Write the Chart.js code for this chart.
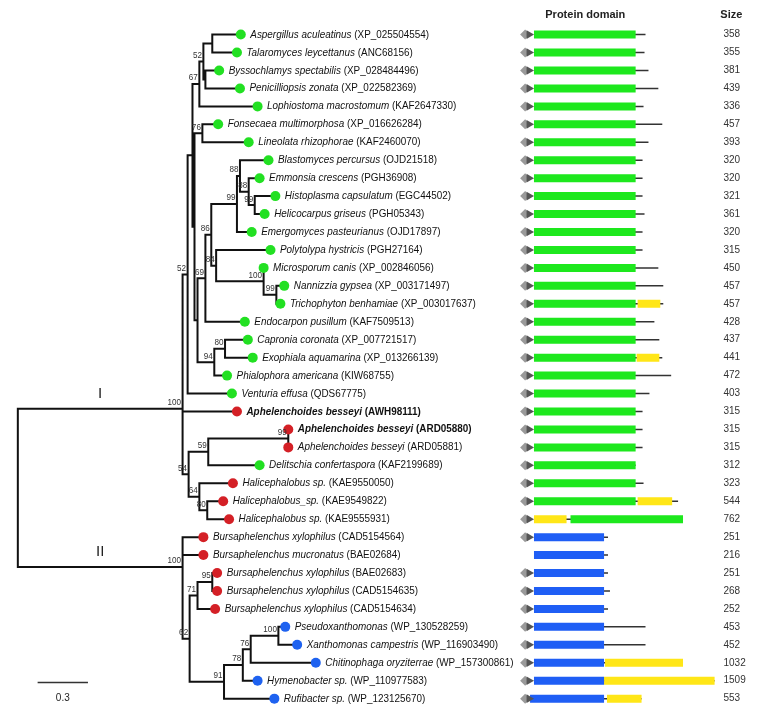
<!DOCTYPE html>
<html>
<head>
<meta charset="utf-8">
<script src="https://cdn.jsdelivr.net/npm/chart.js@4.4.1/dist/chart.umd.min.js"></script>
<style>
  html, body { margin: 0; padding: 0; background: #fff; }
  #wrap { width: 764px; height: 722px; position: relative; }
</style>
</head>
<body>
<div id="wrap"><canvas id="treeChart"></canvas></div>
<script>
// ---- leaves, top to bottom ----
const taxa = ['Aspergillus aculeatinus', 'Talaromyces leycettanus', 'Byssochlamys spectabilis', 'Penicilliopsis zonata',
   'Lophiostoma macrostomum', 'Fonsecaea multimorphosa', 'Lineolata rhizophorae', 'Blastomyces percursus',
   'Emmonsia crescens', 'Histoplasma capsulatum', 'Helicocarpus griseus', 'Emergomyces pasteurianus',
   'Polytolypa hystricis', 'Microsporum canis', 'Nannizzia gypsea', 'Trichophyton benhamiae',
   'Endocarpon pusillum', 'Capronia coronata', 'Exophiala aquamarina', 'Phialophora americana',
   'Venturia effusa', 'Aphelenchoides besseyi', 'Aphelenchoides besseyi', 'Aphelenchoides besseyi',
   'Delitschia confertaspora', 'Halicephalobus sp.', 'Halicephalobus_sp.', 'Halicephalobus sp.',
   'Bursaphelenchus xylophilus', 'Bursaphelenchus mucronatus', 'Bursaphelenchus xylophilus', 'Bursaphelenchus xylophilus',
   'Bursaphelenchus xylophilus', 'Pseudoxanthomonas', 'Xanthomonas campestris', 'Chitinophaga oryziterrae',
   'Hymenobacter sp.', 'Rufibacter sp.'];
const accessions = ['XP_025504554', 'ANC68156', 'XP_028484496', 'XP_022582369', 'KAF2647330', 'XP_016626284',
   'KAF2460070', 'OJD21518', 'PGH36908', 'EGC44502', 'PGH05343', 'OJD17897', 'PGH27164', 'XP_002846056',
   'XP_003171497', 'XP_003017637', 'KAF7509513', 'XP_007721517', 'XP_013266139', 'KIW68755', 'QDS67775',
   'AWH98111', 'ARD05880', 'ARD05881', 'KAF2199689', 'KAE9550050', 'KAE9549822', 'KAE9555931',
   'CAD5154564', 'BAE02684', 'BAE02683', 'CAD5154635', 'CAD5154634', 'WP_130528259', 'WP_116903490',
   'WP_157300861', 'WP_110977583', 'WP_123125670'];
// F = fungi, N = nematode, B = bacteria
const origin = ['F','F','F','F','F','F','F','F','F','F','F','F','F','F','F','F','F','F','F','F','F',
   'N','N','N','F','N','N','N','N','N','N','N','N','B','B','B','B','B'];
const boldRows = [21, 22];
// distance from root (substitutions per site)
const leafDepth = [1.329, 1.306, 1.200, 1.324, 1.429, 1.194, 1.376, 1.494, 1.441, 1.535, 1.471, 1.394,
   1.506, 1.465, 1.588, 1.565, 1.353, 1.371, 1.400, 1.247, 1.276, 1.306, 1.612, 1.612, 1.441, 1.282,
   1.224, 1.259, 1.106, 1.106, 1.188, 1.188, 1.176, 1.594, 1.665, 1.776, 1.429, 1.529];

// ---- internal nodes ----
const nodeIds = ['root', 'I', 'Ia', 'n52b', 'nX', 'nTop', 'n52a', 'nAT', 'nBP', 'nQ', 'n76', 'nR', 'n69', 'n86',
   'n99', 'n88', 'n88b', 'n99b', 'n84', 'n100', 'n99c', 'n94', 'n80', 'n54', 'n59', 'n99d', 'n64', 'n80h',
   'II', 'IIa', 'n62', 'n71', 'n95', 'n91', 'n78', 'n76b', 'n100b'];
const nodeChildren = [['I', 'II'], ['Ia', 'n54'], ['n52b', 21], ['nX', 20], ['nTop', 'nQ'], ['n52a', 4],
   ['nAT', 'nBP'], [0, 1], [2, 3], ['n76', 'nR'], [5, 6], ['n69', 'n94'], ['n86', 16], ['n99', 'n84'],
   ['n88', 11], [7, 'n88b'], [8, 'n99b'], [9, 10], [12, 'n100'], [13, 'n99c'], [14, 15], ['n80', 19],
   [17, 18], ['n59', 'n64'], ['n99d', 24], [22, 23], [25, 'n80h'], [26, 27],
   [28, 'IIa'], [29, 'n62'], ['n71', 'n91'], ['n95', 32], [30, 31], ['n78', 37], ['n76b', 36],
   ['n100b', 35], [33, 34]];
const nodeDepth = [0, 0.982, 0.982, 1.012, 1.041, 1.082, 1.106, 1.159, 1.118, 1.053, 1.100, 1.071, 1.118,
   1.153, 1.306, 1.324, 1.376, 1.412, 1.182, 1.465, 1.541, 1.171, 1.235, 1.018, 1.135, 1.612, 1.082,
   1.129, 0.982, 0.982, 1.024, 1.071, 1.159, 1.229, 1.341, 1.388, 1.553];
const nodeSupport = [null, 100, null, 52, null, 67, 52, null, null, null, 76, null, 69, 86, 99, 88, 88, 99,
   84, 100, 99, 94, 80, 54, 59, 99, 64, 80, 100, null, 62, 71, 95, 91, 78, 76, 100];
const cladeNames = ['I', 'II'];
const scaleBarLength = 0.3;

// ---- protein architecture (schematic units from the signal peptide start) ----
const sizes = [358, 355, 381, 439, 336, 457, 393, 320, 320, 321, 361, 320, 315, 450, 457, 457, 428, 437, 441,
   472, 403, 315, 315, 315, 312, 323, 544, 762, 251, 216, 251, 268, 252, 453, 452, 1032, 1509, 553];
const signalPeptide = [1,1,1,1,1,1,1,1,1,1,1,1,1,1,1,1,1,1,1,1,1,1,1,1,1,1,1,1,1,0,1,1,1,1,1,1,1,1];
// A = green domain, B = blue domain
const domainType = ['A','A','A','A','A','A','A','A','A','A','A','A','A','A','A','A','A','A','A','A','A',
   'A','A','A','A','A','A','A','B','B','B','B','B','B','B','B','B','B'];
const mainDomain = [[14,117],[14,117],[14,117],[14,117],[14,117],[14,117],[14,117],[14,117],[14,117],
   [14,117],[14,117],[14,117],[14,117],[14,117],[14,117],[14,117],[14,117],[14,117],[14,117],[14,117],
   [14,117],[14,117],[14,117],[14,117],[14,117],[14,117],[14,117],[51,165],[14,85],[14,85],[14,85],
   [14,85],[14,85],[14,85],[14,85],[14,85],[14,85],[10,85]];
const extraDomain = [null,null,null,null,null,null,null,null,null,null,null,null,null,null,null,[119,142],
   null,null,[118,141],null,null,null,null,null,null,null,[119,154],[14,47],null,null,null,null,null,null,
   null,[86,165],[85,197],[88,123]];
const proteinEnd = [127, 126, 130, 140, 125, 144, 130, 124, 124, 124, 126, 124, 124, 140, 145, 145, 136,
   141, 144, 153, 131, 124, 124, 124, 117, 125, 160, 165, 89, 89, 89, 91, 89, 127, 127, 165, 197, 123];

// ---- layout helpers ----
const FONT = '"Liberation Sans", Arial, sans-serif';
const rowStep = 18.2, firstRow = 30;      // px
const treeLeft = 13, pxPerUnit = 170;       // px
const domainLeft = 522;                     // px
const W = 764, H = 722;

const nodeIndex = {};
nodeIds.forEach((id, i) => nodeIndex[id] = i);
const yCache = {};
function yOf(c){
   if(typeof c === 'number') return c;
   if(c in yCache) return yCache[c];
   const ch = nodeChildren[nodeIndex[c]];
   yCache[c] = (yOf(ch[0]) + yOf(ch[ch.length - 1])) / 2;
   return yCache[c];
}
function xOf(c){
   return typeof c === 'number' ? leafDepth[c] : nodeDepth[nodeIndex[c]];
}

// branches
const branchPts = [];
nodeIds.forEach((id, i) => {
   const ch = nodeChildren[i];
   const x = nodeDepth[i];
   branchPts.push({x: x, y: yOf(ch[0])}, {x: x, y: yOf(ch[ch.length - 1])}, {x: x, y: null});
   ch.forEach(c => {
      branchPts.push({x: x, y: yOf(c)}, {x: xOf(c), y: yOf(c)}, {x: x, y: null});
   });
});
const scaleBarStart = 0.118;
const scaleBarRow = taxa.length - 1.9;
const scalePts = [{x: scaleBarStart, y: scaleBarRow}, {x: scaleBarStart + scaleBarLength, y: scaleBarRow}];

function dotsFor(o){
   return taxa.map((t, i) => ({x: leafDepth[i], y: i})).filter((p, i) => origin[i] === o);
}

function segs(list){
   const pts = [];
   list.forEach(s => {
      if(!s) return;
      pts.push({x: s[0], y: s[2]}, {x: s[1], y: s[2]}, {x: s[0], y: null});
   });
   return pts;
}
const backbone = segs(proteinEnd.map((e, i) => [Math.min(14, mainDomain[i][0]), e, i]));
const greenBars = segs(mainDomain.map((d, i) => domainType[i] === 'A' ? [d[0], d[1], i] : null));
const blueBars = segs(mainDomain.map((d, i) => domainType[i] === 'B' ? [d[0], d[1], i] : null));
const yellowBars = segs(extraDomain.map((d, i) => d ? [d[0], d[1], i] : null));
const sigBack = signalPeptide.map((s, i) => s ? {x: 5, y: i} : null).filter(p => p);
const sigTip = signalPeptide.map((s, i) => s ? {x: 9, y: i} : null).filter(p => p);

function drawText(ctx, text, x, y, font, align, squeeze, color){
   ctx.save();
   ctx.font = font;
   ctx.fillStyle = color;
   ctx.textBaseline = 'middle';
   ctx.textAlign = align;
   ctx.translate(x, y);
   ctx.scale(squeeze, 1);
   ctx.fillText(text, 0, 0);
   const w = ctx.measureText(text).width * squeeze;
   ctx.restore();
   return w;
}

const labelPlugin = {
   id: 'treeLabels',
   afterDatasetsDraw(chart){
      const ctx = chart.ctx;
      const xs = chart.scales.x, x2 = chart.scales.x2, ys = chart.scales.y;

      // taxon names
      taxa.forEach((t, i) => {
         const bold = boldRows.includes(i);
         const px = xs.getPixelForValue(leafDepth[i]) + 9.5;
         const py = ys.getPixelForValue(i);
         const w = drawText(ctx, t + ' ', px, py, (bold ? 'italic bold ' : 'italic ') + '11px ' + FONT, 'left', 0.9, '#111');
         drawText(ctx, '(' + accessions[i] + ')', px + w, py, (bold ? 'bold ' : '') + '11px ' + FONT, 'left', 0.9, '#111');
      });

      // bootstrap values
      nodeIds.forEach((id, i) => {
         if(nodeSupport[i] === null) return;
         const px = xs.getPixelForValue(nodeDepth[i]) - 1.5;
         const py = ys.getPixelForValue(yOf(id)) - 6;
         drawText(ctx, String(nodeSupport[i]), px, py, '9px ' + FONT, 'right', 0.9, '#333');
      });

      // clade names
      nodeChildren[0].forEach((c, k) => {
         const px = (xs.getPixelForValue(0) + xs.getPixelForValue(xOf(c))) / 2;
         const py = ys.getPixelForValue(yOf(c)) - 15;
         drawText(ctx, cladeNames[k], px, py, '15px ' + FONT, 'center', 1, '#222');
      });

      // scale bar text
      drawText(ctx, String(scaleBarLength),
         xs.getPixelForValue(scaleBarStart + scaleBarLength / 2), ys.getPixelForValue(scaleBarRow) + 16,
         '10px ' + FONT, 'center', 1, '#222');

      // headers and sizes
      drawText(ctx, 'Protein domain', x2.getPixelForValue(66), 15, 'bold 11px ' + FONT, 'center', 1, '#222');
      drawText(ctx, 'Size', x2.getPixelForValue(214), 15, 'bold 11px ' + FONT, 'center', 1, '#222');
      sizes.forEach((s, i) => {
         drawText(ctx, String(s), x2.getPixelForValue(206), ys.getPixelForValue(i), '10px ' + FONT, 'left', 1, '#333');
      });
   }
};

const lineSet = (data, color, width, axis, order, cap) => ({
   data: data, showLine: true, borderColor: color, borderWidth: width, pointRadius: 0,
   xAxisID: axis, yAxisID: 'y', order: order, spanGaps: false,
   borderCapStyle: cap, borderJoinStyle: 'miter', tension: 0
});
const dotSet = (data, color, axis, style, radius, rotation, order) => ({
   data: data, showLine: false, pointRadius: radius, pointStyle: style, pointRotation: rotation,
   pointBackgroundColor: color, pointBorderColor: color, pointBorderWidth: 0,
   xAxisID: axis, yAxisID: 'y', order: order
});

new Chart(document.getElementById('treeChart'), {
   type: 'scatter',
   data: {
      datasets: [
         lineSet(branchPts, '#111', 2, 'x', 10, 'square'),
         lineSet(scalePts, '#333', 1.5, 'x', 10, 'butt'),
         dotSet(dotsFor('F'), '#22e022', 'x', 'circle', 5, 0, 1),
         dotSet(dotsFor('N'), '#d42026', 'x', 'circle', 5, 0, 1),
         dotSet(dotsFor('B'), '#1e62f0', 'x', 'circle', 5, 0, 1),
         lineSet(backbone, '#333', 1.5, 'x2', 9, 'butt'),
         lineSet(greenBars, '#1de81d', 8, 'x2', 5, 'butt'),
         lineSet(blueBars, '#1f5ef5', 8, 'x2', 5, 'butt'),
         lineSet(yellowBars, '#ffe617', 8, 'x2', 5, 'butt'),
         dotSet(sigBack, '#9a9a9a', 'x2', 'rectRot', 5, 0, 2),
         dotSet(sigTip, '#555', 'x2', 'triangle', 5, 90, 1)
      ]
   },
   options: {
      responsive: true,
      maintainAspectRatio: false,
      animation: false,
      events: [],
      layout: { padding: 0 },
      plugins: { legend: { display: false }, tooltip: { enabled: false } },
      scales: {
         x: { type: 'linear', display: false, min: -treeLeft / pxPerUnit, max: (W - treeLeft) / pxPerUnit },
         x2: { type: 'linear', axis: 'x', display: false, min: -domainLeft, max: W - domainLeft },
         y: { type: 'linear', display: false, reverse: true, min: -firstRow / rowStep, max: (H - firstRow) / rowStep }
      }
   },
   plugins: [labelPlugin]
});
</script>
</body>
</html>
